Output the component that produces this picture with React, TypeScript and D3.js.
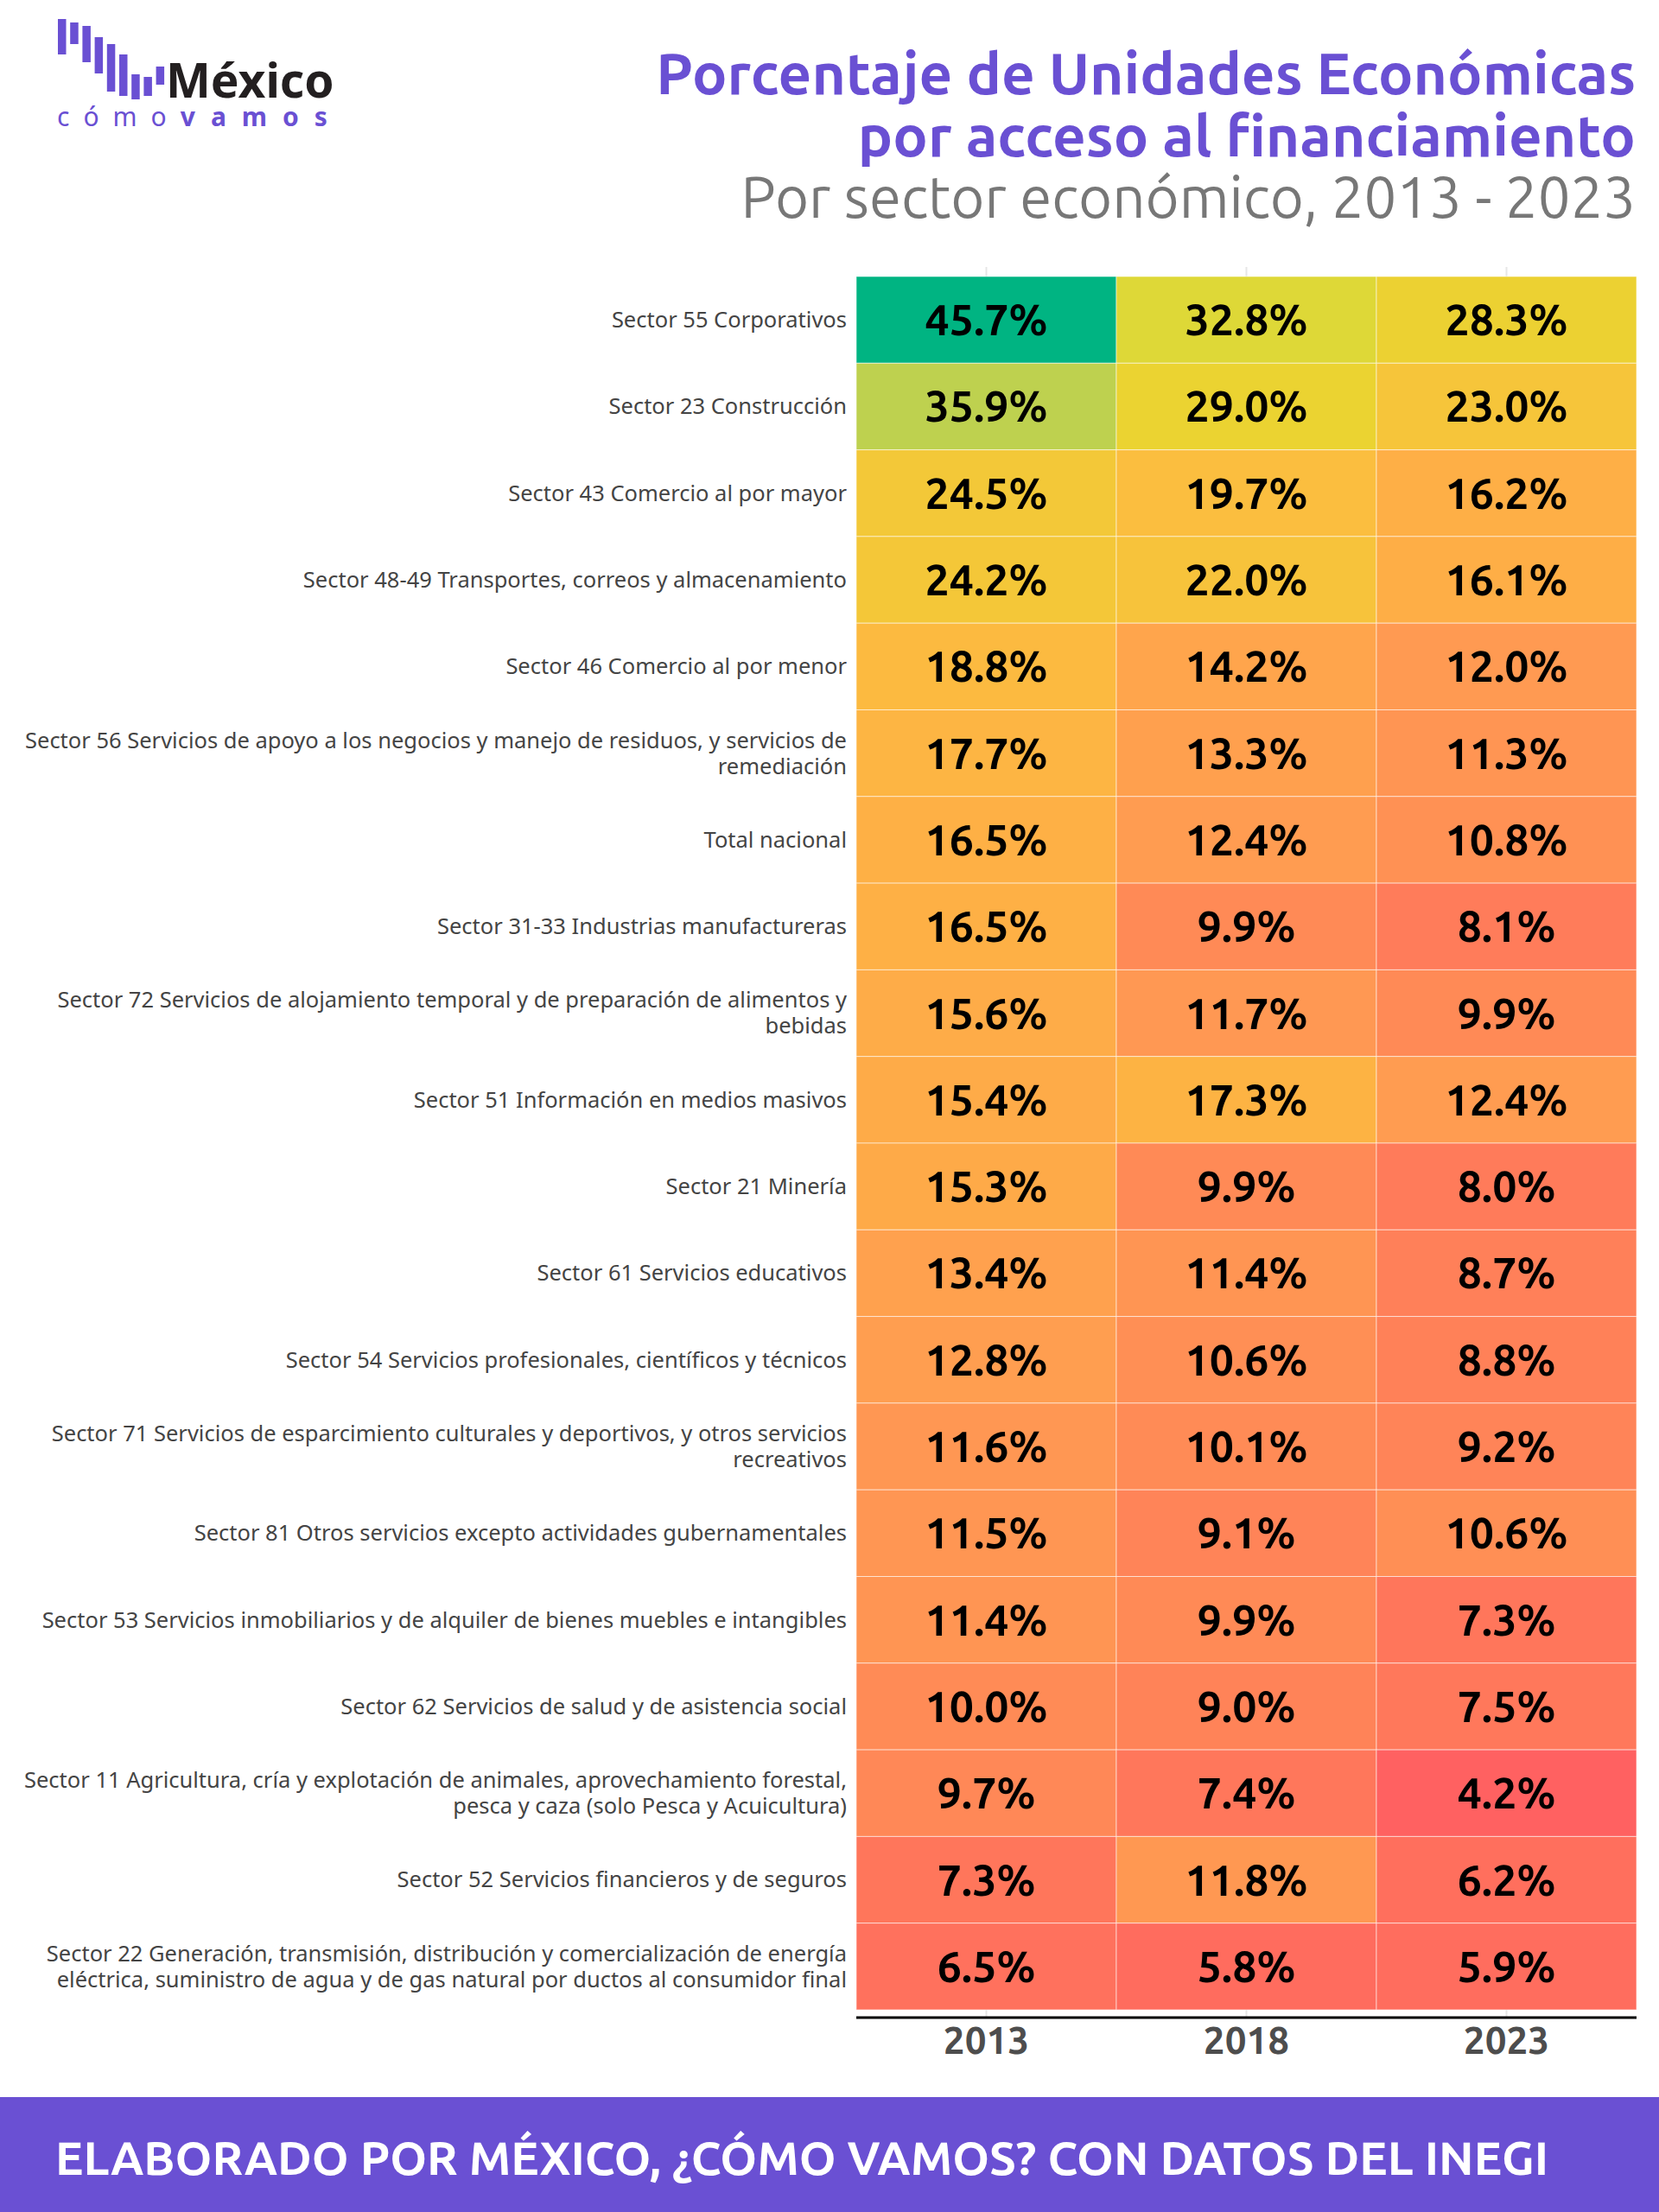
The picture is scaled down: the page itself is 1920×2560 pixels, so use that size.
import React from "react"
import * as d3 from "d3"

// datos
const years = ["2013", "2018", "2023"]

const sectors = [
  "Sector 55 Corporativos",
  "Sector 23 Construcción",
  "Sector 43 Comercio al por mayor",
  "Sector 48-49 Transportes, correos y almacenamiento",
  "Sector 46 Comercio al por menor",
  "Sector 56 Servicios de apoyo a los negocios y manejo de residuos, y servicios de remediación",
  "Total nacional",
  "Sector 31-33 Industrias manufactureras",
  "Sector 72 Servicios de alojamiento temporal y de preparación de alimentos y bebidas",
  "Sector 51 Información en medios masivos",
  "Sector 21 Minería",
  "Sector 61 Servicios educativos",
  "Sector 54 Servicios profesionales, científicos y técnicos",
  "Sector 71 Servicios de esparcimiento culturales y deportivos, y otros servicios recreativos",
  "Sector 81 Otros servicios excepto actividades gubernamentales",
  "Sector 53 Servicios inmobiliarios y de alquiler de bienes muebles e intangibles",
  "Sector 62 Servicios de salud y de asistencia social",
  "Sector 11 Agricultura, cría y explotación de animales, aprovechamiento forestal, pesca y caza (solo Pesca y Acuicultura)",
  "Sector 52 Servicios financieros y de seguros",
  "Sector 22 Generación, transmisión, distribución y comercialización de energía eléctrica, suministro de agua y de gas natural por ductos al consumidor final",
]

const v2013 = [45.7, 35.9, 24.5, 24.2, 18.8, 17.7, 16.5, 16.5, 15.6, 15.4, 15.3, 13.4, 12.8, 11.6, 11.5, 11.4, 10.0, 9.7, 7.3, 6.5]
const v2018 = [32.8, 29.0, 19.7, 22.0, 14.2, 13.3, 12.4, 9.9, 11.7, 17.3, 9.9, 11.4, 10.6, 10.1, 9.1, 9.9, 9.0, 7.4, 11.8, 5.8]
const v2023 = [28.3, 23.0, 16.2, 16.1, 12.0, 11.3, 10.8, 8.1, 9.9, 12.4, 8.0, 8.7, 8.8, 9.2, 10.6, 7.3, 7.5, 4.2, 6.2, 5.9]

const valuesByYear = [v2013, v2018, v2023]

// logo
const logoBars = [
  [22, 63], [26, 51], [30, 72], [43, 85], [51, 106], [63, 111], [86, 115], [89, 111], [77, 98],
]

const PURPLE = "#6a50d3"
const FONT = "Ubuntu, 'Noto Sans', sans-serif"
const LABEL_FONT_SIZE = 25.5

// envolver texto
let canvasCtx: CanvasRenderingContext2D | null = null
function measure(text: string, font: string) {
  if (!canvasCtx) canvasCtx = document.createElement("canvas").getContext("2d")
  canvasCtx!.font = font
  return canvasCtx!.measureText(text).width
}

function wrap(text: string, maxWidth: number) {
  const font = `${LABEL_FONT_SIZE}px 'Noto Sans'`
  const words = text.split(" ")
  const lines: string[] = []
  let line = ""
  words.forEach((w) => {
    const test = line ? line + " " + w : w
    if (line && measure(test, font) > maxWidth) {
      lines.push(line)
      line = w
    } else {
      line = test
    }
  })
  if (line) lines.push(line)
  return lines
}

export default function App() {
  const width = 1920
  const height = 2560
  const left = 991
  const right = 1894
  const top = 320
  const bottom = 2326

  const x = d3.scaleBand().domain(years).range([left, right]).padding(0)
  const y = d3.scaleBand().domain(sectors).range([top, bottom]).padding(0)

  const color = d3
    .scaleLinear<string>()
    .domain([4.2, 8.0, 12.0, 16.5, 20, 24.5, 29, 33, 36, 45.7])
    .range(["#ff6161", "#ff7b5a", "#ff9a52", "#feb045", "#fbbf3e", "#f3c838", "#ebd331", "#ddd837", "#bdd150", "#00b482"])
    .interpolate(d3.interpolateRgb)
    .clamp(true)

  // factor para la envoltura según la fuente disponible
  const refW = measure(sectors[15], `${LABEL_FONT_SIZE}px 'Noto Sans'`)
  const maxLabel = 975 * (refW / 934)

  const cells = sectors.flatMap((s, i) =>
    years.map((yr, j) => ({ sector: s, year: yr, value: valuesByYear[j][i] })),
  )

  return (
    <svg
      width={width}
      height={height}
      style={{ position: "absolute", left: 0, top: 0, background: "#fff" }}
      fontFamily={FONT}
    >
      <rect width={width} height={height} fill="#fff" />

      {/* logo */}
      <g>
        {logoBars.map(([y0, y1], i) => (
          <rect key={i} x={67 + i * 14.2} y={y0} width={9.5} height={y1 - y0} fill={PURPLE} />
        ))}
        <text x={192} y={113} fontSize={55} fontWeight={700} fill="#231f20" fontFamily="'Noto Sans', sans-serif">
          México
        </text>
        <text x={66} y={146} fontSize={30} fill={PURPLE} letterSpacing={16} fontFamily="'Noto Sans', sans-serif">
          cómo
          <tspan fontWeight={700} letterSpacing={18}>vamos</tspan>
        </text>
      </g>

      {/* titulo */}
      <g textAnchor="end">
        <text x={1893} y={109} fontSize={67.5} fontWeight={700} fill={PURPLE}>
          Porcentaje de Unidades Económicas
        </text>
        <text x={1893} y={181} fontSize={67.5} fontWeight={700} fill={PURPLE}>
          por acceso al financiamiento
        </text>
        <text x={1893} y={252} fontSize={67} fill="#777777">
          Por sector económico, 2013 - 2023
        </text>
      </g>

      {/* ticks superiores e inferiores */}
      {years.map((yr) => {
        const cx = x(yr)! + x.bandwidth() / 2
        return (
          <g key={yr} stroke="#e6e6e6" strokeWidth={2}>
            <line x1={cx} x2={cx} y1={top - 11} y2={top} />
            <line x1={cx} x2={cx} y1={bottom} y2={bottom + 9} />
          </g>
        )
      })}

      {/* celdas */}
      {cells.map((d, k) => (
        <rect
          key={k}
          x={x(d.year)!}
          y={y(d.sector)!}
          width={x.bandwidth()}
          height={y.bandwidth()}
          fill={color(d.value)}
          stroke="#ffffff"
          strokeOpacity={0.55}
          strokeWidth={1}
        />
      ))}
      {cells.map((d, k) => (
        <text
          key={k}
          x={x(d.year)! + x.bandwidth() / 2}
          y={y(d.sector)! + y.bandwidth() / 2}
          dy="0.36em"
          textAnchor="middle"
          fontSize={50}
          fontWeight={700}
          fill="#000"
        >
          {d.value.toFixed(1)}%
        </text>
      ))}

      {/* etiquetas de sectores */}
      {sectors.map((s) => {
        const lines = wrap(s, maxLabel)
        const cy = y(s)! + y.bandwidth() / 2
        const lh = 30
        return (
          <text
            key={s}
            x={980}
            textAnchor="end"
            fontSize={LABEL_FONT_SIZE}
            fill="#444444"
            fontFamily="'Noto Sans', sans-serif"
          >
            {lines.map((l, i) => (
              <tspan key={i} x={980} y={cy + (i - (lines.length - 1) / 2) * lh} dy="0.35em">
                {l}
              </tspan>
            ))}
          </text>
        )
      })}

      {/* eje x */}
      <line x1={left} x2={right} y1={bottom + 9} y2={bottom + 9} stroke="#000" strokeWidth={3} />
      {years.map((yr) => (
        <text
          key={yr}
          x={x(yr)! + x.bandwidth() / 2}
          y={2377}
          textAnchor="middle"
          fontSize={44}
          fontWeight={700}
          fill="#4d4d4d"
        >
          {yr}
        </text>
      ))}

      {/* pie */}
      <rect x={0} y={2427} width={width} height={height - 2427} fill={PURPLE} />
      <text x={64} y={2517} fontSize={54.5} fontWeight={700} fill="#fff">
        ELABORADO POR MÉXICO, ¿CÓMO VAMOS? CON DATOS DEL INEGI
      </text>
    </svg>
  )
}
